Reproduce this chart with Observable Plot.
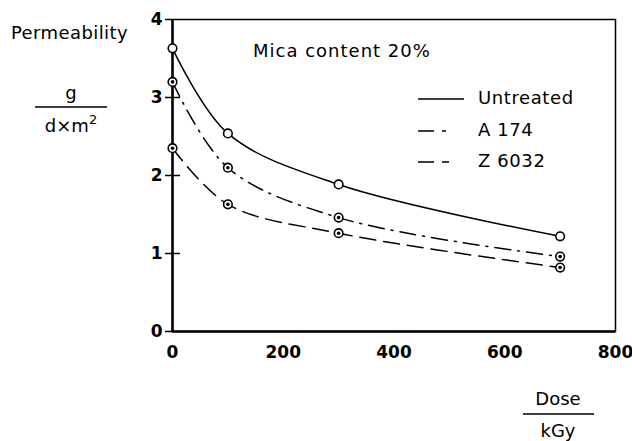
<!DOCTYPE html>
<html><head><meta charset="utf-8">
<script src="https://cdn.jsdelivr.net/npm/d3@7"></script>
<script src="https://cdn.jsdelivr.net/npm/@observablehq/plot@0.6"></script>
<style>
body{margin:0;background:#fff;}
#wrap{position:relative;width:632px;height:441px;font-family:"DejaVu Sans",sans-serif;color:#000;overflow:hidden;}
.lbl{position:absolute;font-size:18px;white-space:nowrap;line-height:1;}
#wrap svg.plot{position:absolute;left:0;top:0;}
</style></head><body><div id="wrap"></div>
<script>
const doses = [0, 100, 300, 700];
const untreated = [3.63, 2.54, 1.885, 1.22];
const a174 = [3.2, 2.1, 1.46, 0.96];
const z6032 = [2.35, 1.63, 1.26, 0.82];
const seriesNames = ["Untreated", "A 174", "Z 6032"];
const xTicks = [0, 200, 400, 600, 800];
const yTicks = [0, 1, 2, 3, 4];
const yInnerTicks = [1, 2, 3];

const dashes = {"Untreated": null, "A 174": "16,7,2,7", "Z 6032": "16,8"};
const legendDashes = {"Untreated": null, "A 174": "16,8,4,40", "Z 6032": "16,8,7,40"};
const seriesValues = [untreated, a174, z6032];

const data = [];
seriesNames.forEach((s, i) => doses.forEach((d, j) => data.push({series: s, dose: d, value: seriesValues[i][j]})));

const marks = [
  Plot.frame({stroke: "#000", strokeWidth: 1.5}),
  Plot.ruleX([0], {stroke: "#000", strokeWidth: 2.5}),
  Plot.ruleY([0], {stroke: "#000", strokeWidth: 2.5}),
  Plot.axisX({ticks: xTicks, tickSize: 0, tickPadding: 14, tickFormat: "d", fontSize: 17, fontWeight: "bold", label: null}),
  Plot.axisY({ticks: yTicks, tickSize: 7, tickPadding: 3, tickFormat: "d", strokeWidth: 1.5, fontSize: 17, fontWeight: "bold", label: null}),
  Plot.tickY(yInnerTicks, {y: d => d, insetRight: 435, stroke: "#000", strokeWidth: 1.5})
];
seriesNames.forEach(s => {
  marks.push(Plot.line(data.filter(d => d.series === s), {
    x: "dose", y: "value", curve: "catmull-rom", stroke: "#000", strokeWidth: 1.5,
    strokeDasharray: dashes[s]
  }));
});
marks.push(Plot.dot(data, {x: "dose", y: "value", r: 4.3, stroke: "#000", strokeWidth: 1.6, fill: "#fff"}));
marks.push(Plot.dot(data.filter(d => d.series !== "Untreated"), {x: "dose", y: "value", r: 1.8, fill: "#000"}));

const chart = Plot.plot({
  width: 632, height: 441,
  marginLeft: 172, marginRight: 17, marginTop: 19, marginBottom: 110,
  x: {domain: [0, 800]},
  y: {domain: [0, 4]},
  style: {fontFamily: "DejaVu Sans, sans-serif", color: "#000", background: "#fff"},
  marks
});
chart.classList.add("plot");
const wrap = document.getElementById("wrap");
wrap.appendChild(chart);

function label(text, left, top, opts = {}) {
  const el = document.createElement("div");
  el.className = "lbl";
  el.innerHTML = text;
  el.style.left = left + "px";
  el.style.top = top + "px";
  if (opts.center) el.style.transform = "translateX(-50%)";
  if (opts.size) el.style.fontSize = opts.size + "px";
  if (opts.spacing) el.style.letterSpacing = opts.spacing + "px";
  wrap.appendChild(el);
  return el;
}
label("Permeability", 11, 24, {size: 18, spacing: 0.4});
label("g", 71, 84, {center: true, size: 18});
label("d&times;m<sup style=\"font-size:13px;vertical-align:8px;line-height:0\">2</sup>", 71, 117, {center: true, size: 18});
label("Mica content 20%", 253, 42, {size: 18, spacing: 1});
label("Dose", 558, 390, {center: true, size: 18});
label("kGy", 558, 422, {center: true, size: 18});

// fraction bars and legend lines overlay
const ov = d3.select(wrap).append("svg")
  .attr("width", 632).attr("height", 441)
  .style("position", "absolute").style("left", 0).style("top", 0).style("pointer-events", "none");
ov.append("line").attr("x1", 35).attr("x2", 107).attr("y1", 107).attr("y2", 107).attr("stroke", "#000").attr("stroke-width", 1.5);
ov.append("line").attr("x1", 523).attr("x2", 594).attr("y1", 414).attr("y2", 414).attr("stroke", "#000").attr("stroke-width", 1.5);

const legendRows = [99, 131, 162];
seriesNames.forEach((s, i) => {
  ov.append("line").attr("x1", 418).attr("x2", 464).attr("y1", legendRows[i]).attr("y2", legendRows[i])
    .attr("stroke", "#000").attr("stroke-width", 1.5)
    .attr("stroke-dasharray", legendDashes[s]);
  label(s, 478, legendRows[i] - 10, {size: 18, spacing: 0.6});
});
</script></body></html>
